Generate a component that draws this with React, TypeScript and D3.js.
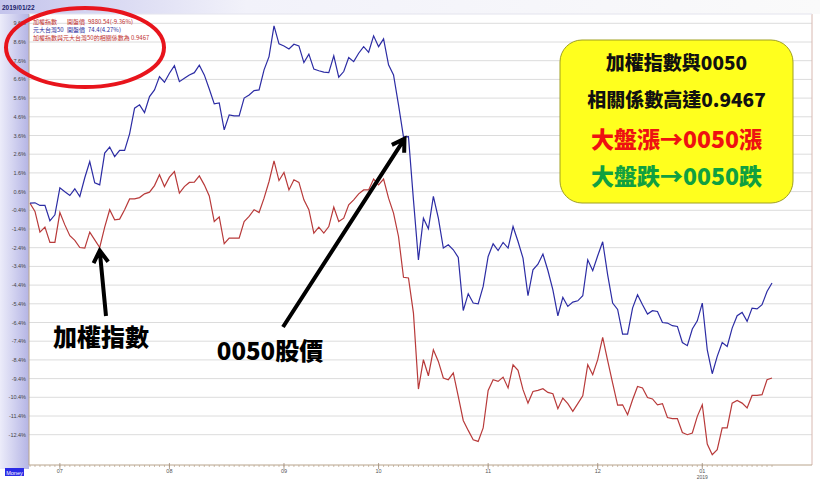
import React from 'react';
import * as d3 from 'd3';

// daily % change since start
const taiexPct = [
  -0.02, -0.46, -1.57, -1.3, -2.12, -2.12, -0.52, -1.18, -1.76, -2.01,
  -2.39, -2.42, -1.57, -1.98, -2.39, -1.3, -0.37, -0.91, -0.87, -0.37,
  0.21, 0.21, 0.28, 0.48, 0.57, 0.92, 1.5, 0.87, 1.37, 1.67,
  0.52, 0.87, 1.09, 1.11, 1.44, 0.96, 0.37, -1.0, -0.75, -2.19,
  -1.89, -1.89, -1.89, -1.0, -0.73, -0.37, -0.52, 0.25, 1.14, 2.24,
  1.19, 1.62, 0.69, 1.23, 1.09, 0.16, -0.37, -1.62, -1.3, -1.62,
  -1.27, -0.23, -1.0, -0.82, -0.11, 0.16, 0.48, 0.69, 0.69, 1.27,
  0.96, 1.27, 0.25, -0.55, -1.8, -3.98, -4.02, -5.9, -9.96, -8.39,
  -9.25, -7.86, -8.48, -9.37, -9.46, -9.1, -10.35, -11.64, -12.17, -12.67,
  -12.76, -12.04, -10.03, -9.46, -9.55, -9.32, -9.9, -8.66, -8.96, -9.99,
  -10.71, -10.09, -10.03, -9.94, -10.14, -10.21, -11.01, -10.44, -10.74, -11.15,
  -10.74, -10.32, -8.66, -9.19, -8.39, -7.2, -8.44, -9.64, -10.82, -10.8,
  -11.33, -10.53, -9.82, -9.9, -10.41, -10.49, -10.8, -10.74, -11.48, -11.54,
  -11.54, -12.28, -12.4, -12.31, -11.42, -10.8, -12.9, -13.47, -13.2, -12.04,
  -12.04, -10.71, -10.57, -10.71, -10.97, -10.3, -10.3, -10.26, -9.46, -9.37,
];

const etf0050Pct = [
  -0.02, 0.0, -0.14, -0.14, -0.96, -0.64, 0.8, 0.59, 0.39, 0.75,
  0.34, 1.34, 2.21, 1.07, 0.96, 2.66, 2.98, 2.47, 2.8, 2.8,
  3.69, 5.06, 5.24, 4.83, 5.68, 6.04, 6.75, 6.45, 6.93, 7.34,
  6.48, 6.66, 6.84, 6.96, 7.36, 6.84, 6.09, 5.29, 5.34, 3.9,
  4.7, 4.65, 4.65, 5.6, 5.77, 6.0, 6.04, 7.11, 7.82, 9.46,
  8.5, 8.39, 8.23, 8.48, 8.39, 7.5, 7.95, 7.15, 7.06, 6.99,
  6.96, 7.86, 6.72, 7.02, 7.77, 7.55, 8.0, 8.35, 8.05, 8.93,
  8.35, 8.77, 7.38, 6.84, 5.24, 3.53, 3.54, 0.16, -3.05, -0.82,
  -1.39, 0.34, -0.82, -2.42, -2.24, -2.51, -2.92, -5.76, -4.86, -5.36,
  -5.4, -4.47, -2.87, -2.19, -2.55, -2.12, -2.42, -1.27, -2.07, -2.96,
  -4.97, -3.58, -3.28, -2.74, -3.62, -4.65, -6.04, -5.06, -5.54, -5.31,
  -5.24, -4.97, -3.05, -3.63, -2.83, -2.08, -3.85, -5.36, -5.7, -7.02,
  -7.02, -5.63, -4.92, -5.45, -5.95, -5.77, -5.81, -6.4, -6.43, -6.57,
  -6.61, -7.47, -7.64, -6.75, -6.31, -5.36, -7.86, -9.14, -8.21, -7.47,
  -7.68, -6.7, -6.04, -5.86, -6.34, -5.63, -5.67, -5.45, -4.74, -4.29,
];

const yTickValues = [9.6, 8.6, 7.6, 6.6, 5.6, 4.6, 3.6, 2.6, 1.6, 0.6, -0.4, -1.4, -2.4, -3.4, -4.4, -5.4, -6.4, -7.4, -8.4, -9.4, -10.4, -11.4, -12.4];
const monthLabels = ['07', '08', '09', '10', '11', '12', '01'];
const monthStartIdx = [6, 28, 51, 70, 92, 114, 135];

const legendLines = [
  { parts: ['加權指數', '開盤價', '9880.54(-9.36%)'], color: '#c0302e' },
  { parts: ['元大台灣50', '開盤價', '74.4(4.27%)'], color: '#2a2a9a' },
  { parts: ['加權指數與元大台灣50的相關係數為 0.9467'], color: '#c0302e' },
];

const boxLines = [
  { text: '加權指數與0050', color: '#111', size: 19 },
  { text: '相關係數高達0.9467', color: '#111', size: 19 },
  { text: '大盤漲→0050漲', color: '#ee1111', size: 23 },
  { text: '大盤跌→0050跌', color: '#10a040', size: 23 },
];

const W = 820;
const H = 482;
const plot = { left: 29, right: 812, top: 14, bottom: 465 };
const CJK = '"Noto Sans CJK TC", "Noto Sans CJK SC", sans-serif';
const SMALL = '"Liberation Sans", Arial, sans-serif';

function arrow(x1: number, y1: number, x2: number, y2: number, head = 14) {
  const a = Math.atan2(y2 - y1, x2 - x1);
  const s = 0.55;
  const h1 = [x2 - head * Math.cos(a - s), y2 - head * Math.sin(a - s)];
  const h2 = [x2 - head * Math.cos(a + s), y2 - head * Math.sin(a + s)];
  return `M${x1},${y1}L${x2},${y2}M${h1[0]},${h1[1]}L${x2},${y2}L${h2[0]},${h2[1]}`;
}

export default function App() {
  const n = taiexPct.length;
  const x = d3.scaleLinear().domain([0, n - 1]).range([30, 772]);
  const y = d3.scaleLinear().domain([-12.4, 9.6]).range([434.7, 23.3]);

  const line = d3.line<number>().x((_, i) => x(i)).y(d => y(d));

  const minorTicks = d3.range(0, n);

  // arrow tips anchored on the data
  const tip1 = [x(14), y(taiexPct[14]) + 3];
  const tip2 = [x(75) + 1, y(etf0050Pct[75]) + 2];

  return (
    <div style={{ position: 'fixed', left: 0, top: 0 }}>
      <svg width={W} height={H} style={{ display: 'block', background: '#fff' }}>
        <defs>
          <linearGradient id="panel" x1="0" x2="1" y1="0" y2="0">
            <stop offset="0" stopColor="#ececfa" />
            <stop offset="1" stopColor="#b4b4e4" />
          </linearGradient>
          <linearGradient id="topband" x1="0" x2="1" y1="0" y2="0">
            <stop offset="0" stopColor="#c4c4ec" />
            <stop offset="0.3" stopColor="#f2f2fa" />
            <stop offset="1" stopColor="#fafafa" />
          </linearGradient>
        </defs>

        <rect x={0} y={0} width={W} height={plot.top} fill="url(#topband)" />
        <rect x={0} y={plot.top} width={plot.left} height={455} fill="url(#panel)" />
        <text x={2} y={10} fontSize={6.5} fontWeight={700} fill="#1c1c6a" fontFamily={SMALL}>2019/01/22</text>

        {/* grid */}
        {yTickValues.map(v => (
          <line key={v} x1={plot.left} x2={plot.right} y1={y(v)} y2={y(v)} stroke="#dcdcdc" strokeWidth={1} />
        ))}
        {yTickValues.map(v => (
          <text key={'t' + v} x={26} y={y(v) + 2} fontSize={5.5} textAnchor="end" fill="#444" fontFamily={SMALL}>
            {v.toFixed(1)}%
          </text>
        ))}

        {/* frame */}
        <line x1={plot.left} x2={plot.left} y1={plot.top} y2={plot.bottom} stroke="#b8a48c" />
        <line x1={plot.right} x2={plot.right} y1={plot.top} y2={plot.bottom} stroke="#d8b8b0" />
        <line x1={plot.left} x2={plot.right} y1={plot.bottom} y2={plot.bottom} stroke="#b8a48c" />
        <line x1={plot.left} x2={plot.right} y1={plot.top} y2={plot.top} stroke="#e4e4ee" />

        {/* x axis ticks */}
        {minorTicks.map(i => (
          <line key={'m' + i} x1={x(i)} x2={x(i)} y1={plot.bottom} y2={plot.bottom + 2} stroke="#b8a48c" strokeWidth={0.7} />
        ))}
        {monthStartIdx.map((idx, k) => (
          <g key={'M' + k}>
            <line x1={x(idx)} x2={x(idx)} y1={plot.bottom - 2} y2={plot.bottom + 4} stroke="#a08c78" strokeWidth={0.8} />
            <text x={x(idx)} y={plot.bottom + 8} fontSize={5.5} textAnchor="middle" fill="#555" fontFamily={SMALL}>
              {monthLabels[k]}
            </text>
            {monthLabels[k] === '01' && (
              <text x={x(idx)} y={plot.bottom + 14} fontSize={5} textAnchor="middle" fill="#555" fontFamily={SMALL}>2019</text>
            )}
          </g>
        ))}

        <rect x={5} y={468} width={19} height={8} fill="#2a2ae6" />
        <text x={14.5} y={474.5} fontSize={5.5} textAnchor="middle" fill="#fff" fontFamily={SMALL}>Money</text>

        {/* series */}
        <path d={line(taiexPct) || ''} fill="none" stroke="#b83a3a" strokeWidth={1.2} />
        <path d={line(etf0050Pct) || ''} fill="none" stroke="#2c2ca4" strokeWidth={1.2} />

        {/* legend */}
        {legendLines.map((l, i) => (
          <text key={'l' + i} x={33} y={23.5 + i * 8} fontSize={6} fill={l.color} fontFamily={CJK}>
            {l.parts.length === 3 ? (
              <>
                <tspan>{l.parts[0]}</tspan>
                <tspan x={67}>{l.parts[1]}</tspan>
                <tspan dx={3}>{l.parts[2]}</tspan>
              </>
            ) : (
              l.parts[0]
            )}
          </text>
        ))}
        <ellipse cx={85} cy={47.5} rx={79} ry={39.5} fill="none" stroke="#e8141c" strokeWidth={4} />

        {/* callout box */}
        <rect x={560} y={40} width={233} height={163} rx={22} fill="#ffff1e" stroke="#a0a020" strokeWidth={1} />
        {boxLines.map((b, i) => (
          <text key={'b' + i} x={676.5} y={[70, 107, 148, 185][i]} fontSize={b.size} fontWeight={900}
            textAnchor="middle" fill={b.color} fontFamily={CJK}>
            {b.text}
          </text>
        ))}

        {/* annotations */}
        <path d={arrow(106, 316, tip1[0], tip1[1])} stroke="#000" strokeWidth={4} fill="none" strokeLinejoin="miter" />
        <path d={arrow(283, 327, tip2[0], tip2[1])} stroke="#000" strokeWidth={4} fill="none" strokeLinejoin="miter" />
        <text x={101} y={346} fontSize={24} fontWeight={900} textAnchor="middle" fill="#000" fontFamily={CJK}>加權指數</text>
        <text x={270} y={360} fontSize={24} fontWeight={900} textAnchor="middle" fill="#000" fontFamily={CJK}>0050股價</text>
      </svg>
    </div>
  );
}
